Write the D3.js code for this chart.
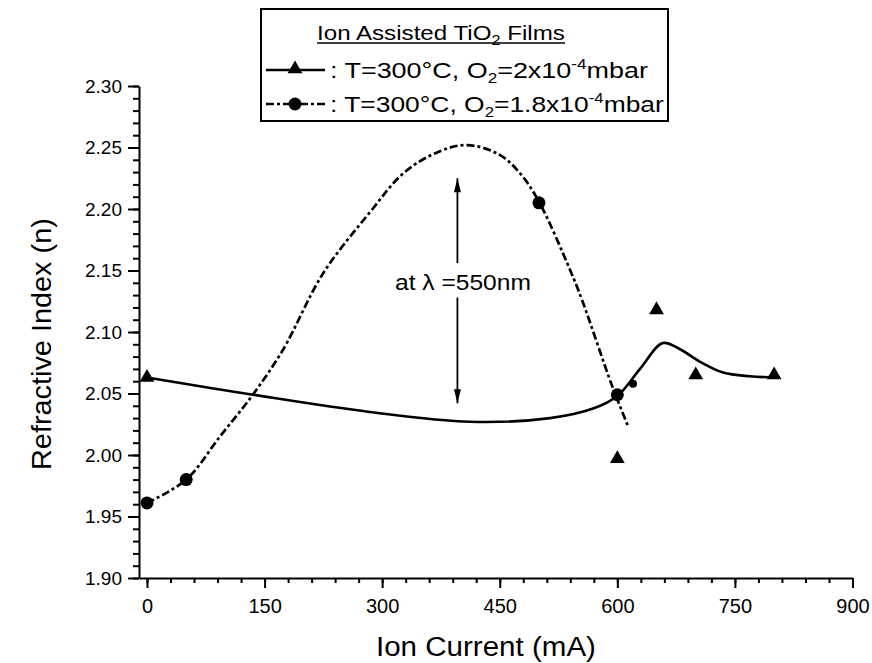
<!DOCTYPE html>
<html>
<head>
<meta charset="utf-8">
<script src="https://cdn.jsdelivr.net/npm/d3@7"></script>
<style>
  body { margin: 0; background: #fff; }
  svg text { font-family: "Liberation Sans", Arial, sans-serif; fill: #000; }
</style>
</head>
<body>
<div id="chart"></div>
<script>
// measured points (triangles / circles)
const triCurrent = [0, 600, 650, 700, 800];
const triIndex = [2.063, 1.997, 2.118, 2.065, 2.065];
const dotCurrent = [0, 50, 500, 600];
const dotIndex = [1.961, 1.980, 2.205, 2.049];
const strayCurrent = [620];
const strayIndex = [2.058];

// hand drawn fit curves
const fitACurrent = [0, 135, 284, 412, 514, 570, 600, 629, 658, 680, 705, 735, 769, 807];
const fitAIndex = [2.063, 2.049, 2.035, 2.027, 2.030, 2.038, 2.048, 2.070, 2.091, 2.086, 2.076, 2.067, 2.064, 2.063];
const fitBCurrent = [0, 50, 93, 135, 173, 225, 284, 327, 370, 408, 450, 476, 500, 540, 555, 594, 614];
const fitBIndex = [1.961, 1.980, 2.015, 2.049, 2.085, 2.148, 2.197, 2.229, 2.246, 2.252, 2.244, 2.229, 2.206, 2.150, 2.126, 2.055, 2.023];

const xTicks = [0, 150, 300, 450, 600, 750, 900];
const yTicks = [1.90, 1.95, 2.00, 2.05, 2.10, 2.15, 2.20, 2.25, 2.30];

const width = 872, height = 663;
const dashDot = '8,3,3,3';

const svg = d3.select('#chart').append('svg')
  .attr('width', width)
  .attr('height', height);

const x = d3.scaleLinear().domain([-10.2, 900]).range([139, 852.5]);
const y = d3.scaleLinear().domain([1.90, 2.30]).range([578, 86]);

// stretch a text horizontally so it spans `target` px from its left edge
// (the scanned font is wider than Liberation Sans)
function stretch(sel, target) {
  const b = sel.node().getBBox();
  const k = target / b.width;
  sel.attr('transform', `translate(${b.x},0) scale(${k},1) translate(${-b.x},0)`);
}

// minor ticks first (no labels)
svg.append('g')
  .attr('transform', 'translate(0,578)')
  .call(d3.axisBottom(x).tickValues(d3.range(0, 901, 30)).tickSize(5).tickFormat('').tickSizeOuter(0))
  .call(g => g.select('.domain').remove());
svg.append('g')
  .attr('transform', 'translate(139,0)')
  .call(d3.axisLeft(y).tickValues(d3.range(190, 231, 1).map(d => d / 100)).tickSize(6).tickFormat('').tickSizeOuter(0))
  .call(g => g.select('.domain').remove());

const xAxis = svg.append('g')
  .attr('class', 'axis axis-x')
  .attr('transform', 'translate(0,578)')
  .call(d3.axisBottom(x).tickValues(xTicks).tickSize(10).tickPadding(11).tickSizeOuter(0));
xAxis.selectAll('text').style('font-size', '20px');

const yAxis = svg.append('g')
  .attr('class', 'axis axis-y')
  .attr('transform', 'translate(139,0)')
  .call(d3.axisLeft(y).tickValues(yTicks).tickSize(11).tickPadding(6).tickFormat(d3.format('.2f')).tickSizeOuter(0));
yAxis.selectAll('text').style('font-size', '19px');

svg.selectAll('.tick line, .domain').attr('stroke', '#000').attr('stroke-width', 2);

// axis titles
const xTitle = svg.append('text')
  .attr('x', 376)
  .attr('y', 656)
  .style('font-size', '27px')
  .text('Ion Current (mA)');
stretch(xTitle, 220);

svg.append('g')
  .attr('transform', 'translate(51,344) rotate(-90)')
  .append('text')
  .attr('x', -126)
  .attr('y', 0)
  .style('font-size', '27px')
  .text('Refractive Index (n)')
  .call(sel => stretch(sel, 252));

// fit curves
const line = d3.line()
  .x(d => x(d[0]))
  .y(d => y(d[1]))
  .curve(d3.curveCatmullRom.alpha(0.5));

svg.append('path')
  .datum(d3.zip(fitACurrent, fitAIndex))
  .attr('d', line)
  .attr('fill', 'none')
  .attr('stroke', '#000')
  .attr('stroke-width', 2.6);

svg.append('path')
  .datum(d3.zip(fitBCurrent, fitBIndex))
  .attr('d', line)
  .attr('fill', 'none')
  .attr('stroke', '#000')
  .attr('stroke-width', 2.7)
  .attr('stroke-dasharray', dashDot);

// markers
const tri = d3.symbol().type(d3.symbolTriangle).size(95);
svg.selectAll('.tri')
  .data(d3.zip(triCurrent, triIndex))
  .enter().append('path')
  .attr('class', 'tri')
  .attr('d', tri)
  .attr('transform', d => `translate(${x(d[0])},${y(d[1])})`)
  .attr('fill', '#000');

svg.selectAll('.dot')
  .data(d3.zip(dotCurrent, dotIndex))
  .enter().append('circle')
  .attr('class', 'dot')
  .attr('cx', d => x(d[0]))
  .attr('cy', d => y(d[1]))
  .attr('r', 6.5)
  .attr('fill', '#000');

svg.selectAll('.stray')
  .data(d3.zip(strayCurrent, strayIndex))
  .enter().append('circle')
  .attr('class', 'stray')
  .attr('cx', d => x(d[0]))
  .attr('cy', d => y(d[1]))
  .attr('r', 4)
  .attr('fill', '#000');

// annotation with arrows
const annX = 396;
const arrow = (x0, y0, y1) => {
  svg.append('line')
    .attr('x1', x(x0)).attr('x2', x(x0))
    .attr('y1', y(y0)).attr('y2', y(y1))
    .attr('stroke', '#000').attr('stroke-width', 1.8);
  const tip = y(y1), dir = y(y1) < y(y0) ? 1 : -1;
  svg.append('path')
    .attr('d', `M${x(x0)},${tip} L${x(x0) - 3.5},${tip + dir * 14} L${x(x0) + 3.5},${tip + dir * 14} Z`)
    .attr('fill', '#000');
};
arrow(annX, 2.156, 2.225);
arrow(annX, 2.128, 2.042);
const ann = svg.append('text')
  .attr('x', 395)
  .attr('y', y(2.134))
  .style('font-size', '22px')
  .text('at λ =550nm');
stretch(ann, 136);

// legend
const legend = svg.append('g').attr('class', 'legend');
legend.append('rect')
  .attr('x', 261).attr('y', 9)
  .attr('width', 407).attr('height', 112)
  .attr('fill', '#fff')
  .attr('stroke', '#000')
  .attr('stroke-width', 2);

const title = legend.append('text')
  .attr('x', 317).attr('y', 40)
  .style('font-size', '21px');
title.append('tspan').text('Ion Assisted TiO');
title.append('tspan').attr('dy', 5).style('font-size', '14px').text('2');
title.append('tspan').attr('dy', -5).text(' Films');
stretch(title, 248);
legend.append('line')
  .attr('x1', 317).attr('x2', 317 + 248)
  .attr('y1', 43).attr('y2', 43)
  .attr('stroke', '#000').attr('stroke-width', 1.6);

const entries = [
  { y: 70, dash: null, mark: 'tri', o2: '2', w: 318 },
  { y: 104, dash: dashDot, mark: 'dot', o2: '1.8', w: 334 }
];
entries.forEach(e => {
  legend.append('line')
    .attr('x1', 266).attr('x2', 325)
    .attr('y1', e.y).attr('y2', e.y)
    .attr('stroke', '#000').attr('stroke-width', 2.4)
    .attr('stroke-dasharray', e.dash);
  if (e.mark === 'tri') {
    legend.append('path').attr('d', tri).attr('transform', `translate(295,${e.y - 1})`).attr('fill', '#000');
  } else {
    legend.append('circle').attr('cx', 295).attr('cy', e.y).attr('r', 6.5).attr('fill', '#000');
  }
  const t = legend.append('text')
    .attr('x', 330).attr('y', e.y + 8)
    .style('font-size', '22px');
  t.append('tspan').text(': T=300°C, O');
  t.append('tspan').attr('dy', 5).style('font-size', '14px').text('2');
  t.append('tspan').attr('dy', -5).text('=' + e.o2 + 'x10');
  t.append('tspan').attr('dy', -9).style('font-size', '14px').text('-4');
  t.append('tspan').attr('dy', 9).text('mbar');
  stretch(t, e.w);
});
</script>
</body>
</html>
